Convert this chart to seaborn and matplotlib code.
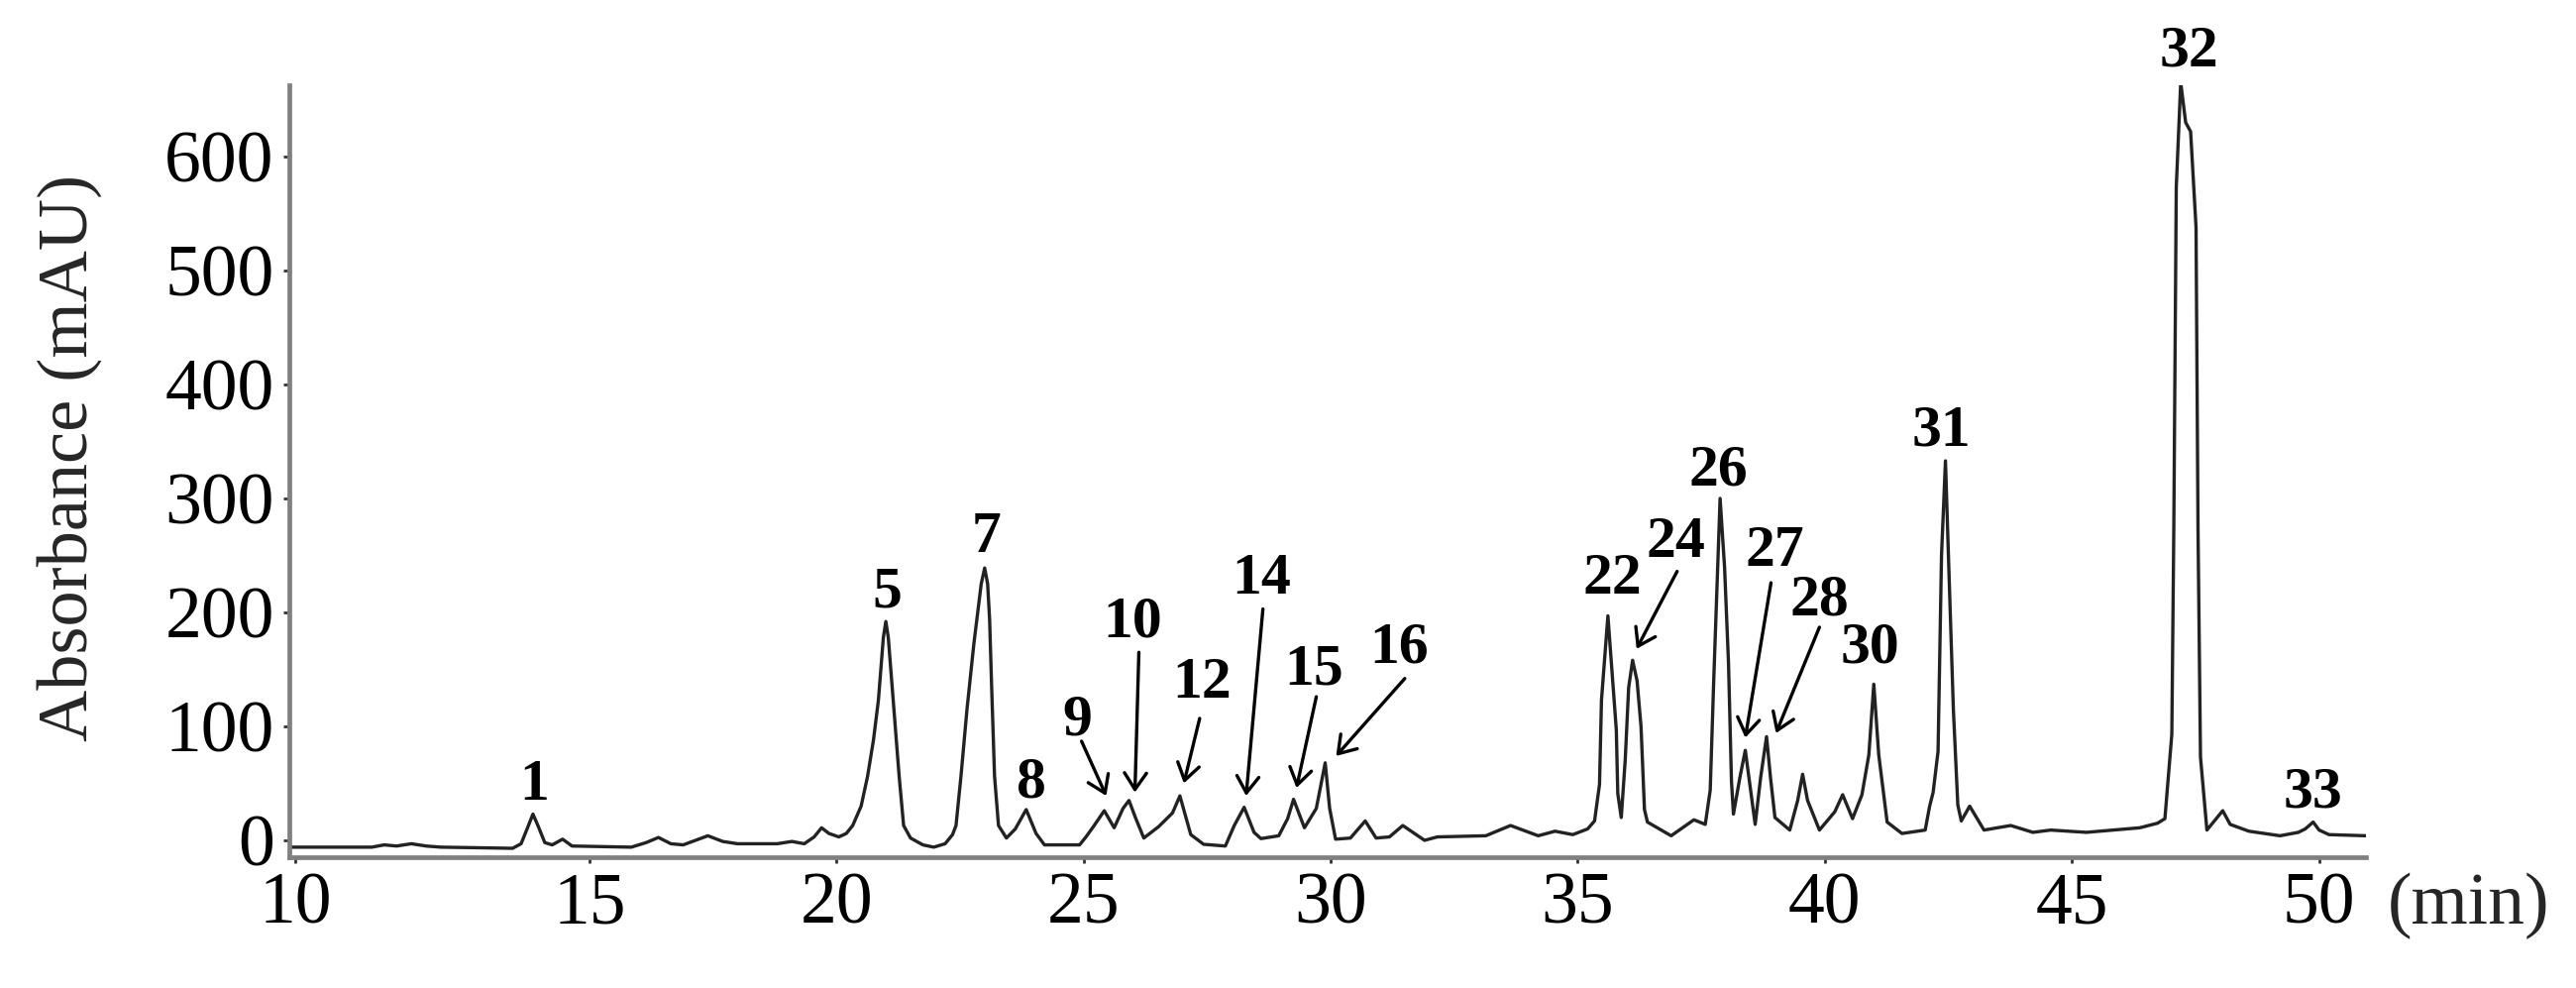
import seaborn as sns
import matplotlib.pyplot as plt
import pandas as pd

# Chromatogram trace (retention time in min, absorbance in mAU)
time_min = [
    8.93, 10.6, 10.85, 11.1, 11.4, 11.7, 12.0, 13.45, 13.62, 13.76, 13.86, 13.97,
    14.1, 14.25, 14.46, 14.65, 15.85, 16.15, 16.4, 16.65, 16.9, 17.15, 17.4, 17.7,
    18.0, 18.8, 19.1, 19.35, 19.55, 19.7, 19.85, 20.05, 20.2, 20.33, 20.5, 20.63,
    20.75, 20.85, 20.95, 21.0, 21.05, 21.15, 21.27, 21.36, 21.5, 21.75, 21.97, 22.2,
    22.35, 22.42, 22.52, 22.64, 22.78, 22.93, 23.0, 23.06, 23.1, 23.14, 23.2, 23.28,
    23.44, 23.62, 23.84, 24.04, 24.21, 24.92, 25.05, 25.2, 25.42, 25.62, 25.8, 25.92,
    26.05, 26.22, 26.52, 26.8, 26.95, 27.17, 27.43, 27.87, 28.05, 28.25, 28.45, 28.59,
    28.95, 29.13, 29.25, 29.47, 29.71, 29.89, 29.98, 30.1, 30.4, 30.7, 30.92, 31.19,
    31.46, 31.9, 32.16, 33.14, 33.64, 34.2, 34.54, 34.9, 35.2, 35.34, 35.44, 35.48,
    35.61, 35.78, 35.81, 35.88, 35.96, 36.03, 36.11, 36.2, 36.28, 36.35, 36.41, 36.89,
    37.35, 37.58, 37.68, 37.75, 37.88, 37.97, 38.05, 38.11, 38.15, 38.28, 38.39, 38.48,
    38.59, 38.7, 38.82, 38.9, 38.99, 39.29, 39.45, 39.55, 39.65, 39.89, 40.2, 40.36,
    40.56, 40.75, 40.89, 40.99, 41.09, 41.26, 41.56, 42.03, 42.12, 42.19, 42.29, 42.36,
    42.44, 42.5, 42.6, 42.69, 42.76, 42.93, 43.22, 43.76, 44.21, 44.57, 45.29, 45.83,
    46.37, 46.73, 46.88, 47.02, 47.06, 47.11, 47.2, 47.3, 47.4, 47.51, 47.55, 47.6,
    47.73, 48.05, 48.2, 48.58, 49.21, 49.58, 49.72, 49.88, 50.0, 50.2, 50.95,
]
absorbance_mau = [
    -6, -6, -4, -5, -3, -5, -6, -7, -3, 12, 23, 12,
    -2, -4, 1, -5, -6, -2, 2.5, -3, -4, 0, 4, -1,
    -3, -3, -1, -3, 3, 11, 6, 3, 6, 13, 30, 56,
    88, 123, 178, 192, 178, 123, 56, 13, 2, -4, -6, -3,
    5, 13, 56, 114, 172, 225, 239, 225, 194, 136, 56, 13,
    2, 10, 27, 6, -4, -4, 3, 12, 26, 11, 28, 35,
    20, 2, 12, 24, 39, 5, -3.5, -5, 13, 29, 7, 1.5,
    4, 19, 36, 11, 28, 68, 28, 1, 2, 17, 2, 3,
    13, 0, 3, 4, 13, 4, 8, 5, 10, 17, 49, 123,
    197, 97, 41, 20, 70, 134, 158, 140, 100, 27, 16, 4,
    18, 14, 44, 139, 300, 240, 156, 52, 23, 55, 79, 50,
    14, 55, 91, 55, 20, 9, 35, 58, 35, 9, 25, 40,
    19, 40, 75, 137, 75, 16, 6, 9, 30, 42, 78, 250,
    333, 250, 115, 31, 17, 30, 9, 13, 7, 9, 7, 9,
    11, 15, 19, 93, 273, 573, 665, 630, 622, 538, 273, 73,
    9, 26, 14, 8, 4, 7, 10, 16, 9, 5, 4,
]

# Peak numbers and where their labels sit
peak_names = ['1', '5', '7', '8', '9', '10', '12', '14', '15', '16',
              '22', '24', '26', '27', '28', '30', '31', '32', '33']
peak_label_t = [13.88, 21.03, 23.04, 23.94, 24.88, 26.0, 27.39, 28.59, 29.67, 31.38,
                35.71, 36.99, 37.85, 38.99, 39.89, 40.92, 42.36, 47.37, 49.88]
peak_label_v = [48, 217, 265, 50, 105, 191, 137, 229, 149, 168,
                229, 261, 324, 253, 210, 168, 359, 692, 41]

# Arrows from labels down to the small peaks
arrow_from_t = [24.96, 26.12, 27.35, 28.63, 29.71, 31.5, 37.01, 38.91, 39.89]
arrow_from_v = [87, 165, 107, 203, 126, 142, 236, 226, 187]
arrow_to_t = [25.46, 26.04, 27.03, 28.29, 29.31, 30.11, 36.19, 38.39, 39.01]
arrow_to_v = [39, 42, 50, 39, 46, 74, 168, 90, 94]

x_tick_labels = ['10', '15', '20', '25', '30', '35', '40', '45', '50']
y_ticks = [0, 100, 200, 300, 400, 500, 600]

sns.set_theme(style='ticks')
plt.rcParams['font.family'] = ['Liberation Serif', 'DejaVu Serif']

fig = plt.figure(figsize=(26, 9.97), dpi=100)
ax = fig.add_axes([0.1123, 0.1324, 0.8062, 0.7813])

df = pd.DataFrame({'time': time_min, 'absorbance': absorbance_mau})
sns.lineplot(data=df, x='time', y='absorbance', ax=ax, color='#222222',
             linewidth=2.4, estimator=None, sort=False)

# Peak labels
for name, t, v in zip(peak_names, peak_label_t, peak_label_v):
    ax.text(t, v, name, ha='center', va='center', fontsize=43,
            fontweight='bold', color='black', clip_on=False)

# Arrows
for t0, v0, t1, v1 in zip(arrow_from_t, arrow_from_v, arrow_to_t, arrow_to_v):
    ax.annotate('', xy=(t1, v1), xytext=(t0, v0),
                arrowprops=dict(arrowstyle='->, head_length=0.6, head_width=0.4',
                                lw=2.4, color='black', mutation_scale=20,
                                shrinkA=0, shrinkB=0))

# Axes
ax.set_xlim(8.93, 50.95)
ax.set_ylim(-14.8, 662.6)
ax.set_xticks([9.05, 15, 20, 25, 30, 35, 40, 45, 50])
ax.set_xticklabels(x_tick_labels)
ax.set_yticks(y_ticks)
ax.tick_params(axis='both', labelsize=53, direction='out', length=4, width=2,
               color='#333333', labelcolor='black')
ax.tick_params(axis='y', pad=7)
ax.tick_params(axis='x', pad=7)
sns.despine(ax=ax)
for s in ['left', 'bottom']:
    ax.spines[s].set_color('#808080')
    ax.spines[s].set_linewidth(3.4)

ax.set_xlabel('')
ax.set_ylabel('Absorbance (mAU)', fontsize=52)
ax.yaxis.set_label_coords(-0.09, 0.517)
fig.text(0.927, 0.083, '(min)', fontsize=53, ha='left', va='center')

fig.savefig('out.png', dpi=100)
